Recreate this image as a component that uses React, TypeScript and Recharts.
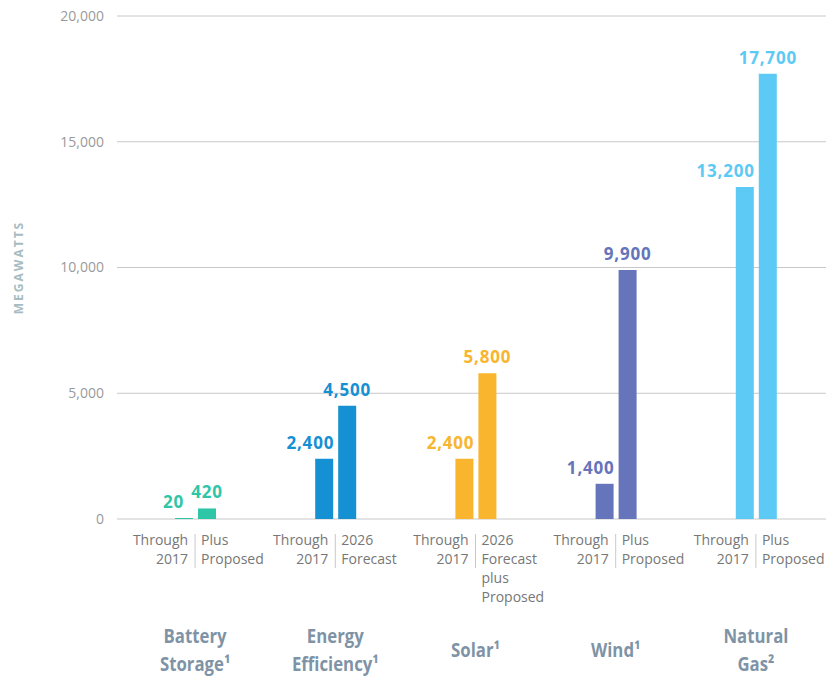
import React from 'react';
import { BarChart, Bar, XAxis, YAxis, CartesianGrid, Cell, LabelList, Label } from 'recharts';

const categories = ['Battery Storage', 'Energy Efficiency', 'Solar', 'Wind', 'Natural Gas'];
const categoryLines = [
  ['Battery', 'Storage¹'],
  ['Energy', 'Efficiency¹'],
  ['Solar¹'],
  ['Wind¹'],
  ['Natural', 'Gas²'],
];
const through2017 = [20, 2400, 2400, 1400, 13200];
const projected = [420, 4500, 5800, 9900, 17700];
const firstSubLabels = [
  ['Through', '2017'],
  ['Through', '2017'],
  ['Through', '2017'],
  ['Through', '2017'],
  ['Through', '2017'],
];
const secondSubLabels = [
  ['Plus', 'Proposed'],
  ['2026', 'Forecast'],
  ['2026', 'Forecast', 'plus', 'Proposed'],
  ['Plus', 'Proposed'],
  ['Plus', 'Proposed'],
];
const colors = ['#2fc6a8', '#1590d3', '#f8b52d', '#6574bb', '#5dc9f5'];
const yTicks = [0, 5000, 10000, 15000, 20000];

const data = categories.map((name, i) => ({
  name,
  through: through2017[i],
  projected: projected[i],
}));

const fmt = (v: number) => v.toLocaleString('en-US');

const sans = '"Open Sans", "Noto Sans", sans-serif';

// plot height in px over the 0..20000 domain, used to tell when the two value labels would collide
const PX_PER_UNIT = 503 / 20000;

function ValueLabel(props: any) {
  const { x, y, width, value, index, first } = props;
  let tx = first ? x + width + 1 : x + width / 2;
  if (first && (projected[index] - through2017[index]) * PX_PER_UNIT < 16) tx -= 10;
  return (
    <text
      x={tx}
      y={y - 10}
      textAnchor={first ? 'end' : 'middle'}
      fill={colors[index]}
      fontFamily={sans}
      fontWeight={700}
      fontSize={17}
      letterSpacing={0.8}
    >
      {fmt(value)}
    </text>
  );
}

function CategoryTick(props: any) {
  const { x, y, payload } = props;
  const i = payload.index;
  const name = categoryLines[i];
  const nameTop = y + 138 - (name.length - 1) * 14;
  return (
    <g>
      <line x1={x} x2={x} y1={y + 15} y2={y + 49} stroke="#c9c9c9" strokeWidth={1} />
      <text textAnchor="end" fill="#777" fontFamily={sans} fontSize={14}>
        {firstSubLabels[i].map((t, k) => (
          <tspan key={k} x={x - 7} y={y + 26 + k * 19}>
            {t}
          </tspan>
        ))}
      </text>
      <text textAnchor="start" fill="#777" fontFamily={sans} fontSize={14}>
        {secondSubLabels[i].map((t, k) => (
          <tspan key={k} x={x + 6} y={y + 26 + k * 19}>
            {t}
          </tspan>
        ))}
      </text>
      {name.map((t, k) => (
        <g key={k} transform={`translate(${x},0) scale(0.84,1)`}>
          <text
            x={0}
            y={nameTop + k * 28}
            textAnchor="middle"
            fill="#7f93a6"
            fontFamily={sans}
            fontWeight={700}
            fontSize={20}
          >
            {t}
          </text>
        </g>
      ))}
    </g>
  );
}

export default function App() {
  return (
    <div style={{ position: 'absolute', left: 0, top: 0, width: 826, height: 681, background: '#fff' }}>
      <BarChart
        width={826}
        height={681}
        data={data}
        margin={{ top: 16, right: 0, bottom: 0, left: 0 }}
        barSize={18}
        barGap={5}
      >
        <CartesianGrid vertical={false} stroke="#c8c8c8" strokeWidth={1} />
        <XAxis
          dataKey="name"
          axisLine={false}
          tickLine={false}
          tickSize={0}
          tickMargin={0}
          height={162}
          padding={{ left: 8, right: 0 }}
          interval={0}
          tick={<CategoryTick />}
        />
        <YAxis
          width={117}
          domain={[0, 20000]}
          ticks={yTicks}
          axisLine={false}
          tickLine={false}
          tickSize={0}
          tickMargin={13}
          tickFormatter={fmt}
          tick={{ fill: '#9a9a9a', fontSize: 14, fontFamily: sans }}
        >
          <Label
            value="MEGAWATTS"
            angle={-90}
            position="insideLeft"
            offset={19}
            style={{
              fill: '#a7bcc1',
              fontSize: 12,
              fontWeight: 700,
              letterSpacing: 2,
              fontFamily: sans,
              textAnchor: 'middle',
            }}
          />
        </YAxis>
        <Bar dataKey="through" isAnimationActive={false} minPointSize={1}>
          {data.map((_, i) => (
            <Cell key={i} fill={colors[i]} />
          ))}
          <LabelList dataKey="through" content={<ValueLabel first />} />
        </Bar>
        <Bar dataKey="projected" isAnimationActive={false}>
          {data.map((_, i) => (
            <Cell key={i} fill={colors[i]} />
          ))}
          <LabelList dataKey="projected" content={<ValueLabel />} />
        </Bar>
      </BarChart>
    </div>
  );
}
